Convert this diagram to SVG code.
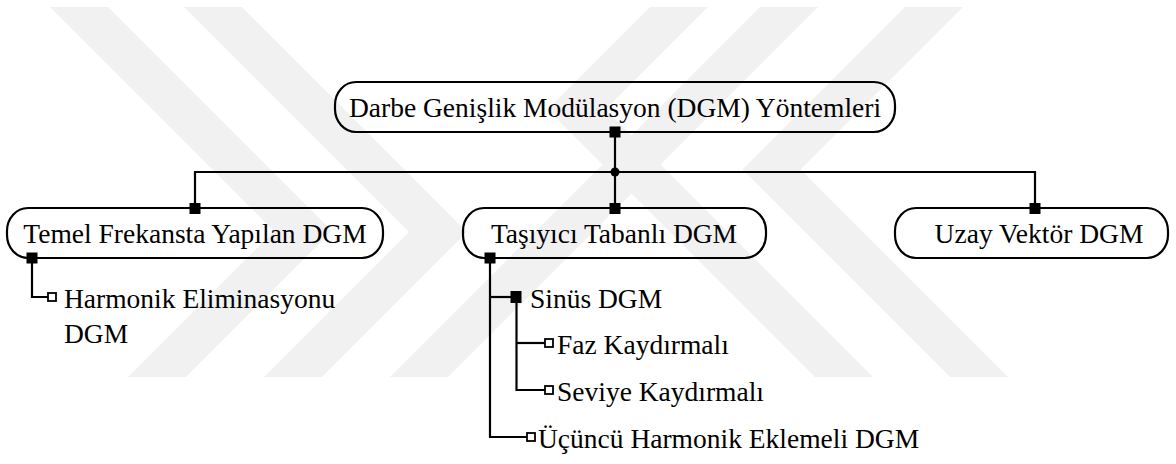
<svg xmlns="http://www.w3.org/2000/svg" width="1176" height="464" viewBox="0 0 1176 464">
<style>
.wm{fill:#f1f1f1}
.box{fill:none;stroke:#000;stroke-width:2.2}
.ln{fill:none;stroke:#000;stroke-width:2.2}
.sq{fill:#000}
.hs{fill:#fff;stroke:#000;stroke-width:1.8}
.t{font-family:"Liberation Serif","Times New Roman",serif;font-size:27.5px;fill:#000}
.c{text-anchor:middle}
</style>
<rect width="1176" height="464" fill="#fff"/>
<g id="watermark">
<polygon class="wm" points="50,7 108,7 332,231 186,377 128,377 274,231"/>
<polygon class="wm" points="184,7 242,7 467,232 322,377 264,377 409,232"/>
<polygon class="wm" points="390,377 448,377 818,7 760,7"/>
<polygon class="wm" points="650,7 708,7 605.5,109.5 873,377 815,377 547.5,109.5"/>
<polygon class="wm" points="905,7 963,7 800.5,169.5 1008,377 950,377 742.5,169.5"/>
</g>
<g id="connectors">
<path class="ln" d="M615 132V208"/>
<path class="ln" d="M195 208V172H1035V208"/>
<circle cx="615" cy="172" r="4.5" fill="#000"/>
<path class="ln" d="M32 258V297H48"/>
<path class="ln" d="M490 258V437H527"/>
<path class="ln" d="M490 297H511"/>
<path class="ln" d="M516.5 297V390H545"/>
<path class="ln" d="M516.5 343H545"/>
<rect class="sq" x="609.5" y="126.5" width="11" height="11"/>
<rect class="sq" x="189.5" y="203" width="11" height="11"/>
<rect class="sq" x="609.5" y="203" width="11" height="11"/>
<rect class="sq" x="1029.5" y="203" width="11" height="11"/>
<rect class="sq" x="26.5" y="252.5" width="11" height="11"/>
<rect class="sq" x="484.5" y="252.5" width="11" height="11"/>
<rect class="sq" x="510.5" y="291" width="11" height="12"/>
<rect class="hs" x="48" y="293" width="8" height="8"/>
<rect class="hs" x="545" y="339" width="8" height="8"/>
<rect class="hs" x="545" y="386" width="8" height="8"/>
<rect class="hs" x="527" y="433" width="8" height="8"/>
</g>
<g id="n-root">
<rect class="box" x="335" y="82" width="560" height="50" rx="21" ry="23"/>
<text class="t c" font-family="Liberation Serif, serif" x="615" y="117">Darbe Genişlik Modülasyon (DGM) Yöntemleri</text>
</g>
<g id="n-temel">
<rect class="box" x="7" y="208" width="376" height="50" rx="21" ry="23"/>
<text class="t c" font-family="Liberation Serif, serif" x="195" y="243">Temel Frekansta Yapılan DGM</text>
</g>
<g id="n-tasiyici">
<rect class="box" x="463" y="208" width="303" height="50" rx="21" ry="23"/>
<text class="t c" font-family="Liberation Serif, serif" x="614" y="243">Taşıyıcı Tabanlı DGM</text>
</g>
<g id="n-uzay">
<rect class="box" x="895" y="208" width="273" height="50" rx="21" ry="23"/>
<text class="t c" font-family="Liberation Serif, serif" x="1039" y="243">Uzay Vektör DGM</text>
</g>
<g id="n-harmonik">
<text class="t" font-family="Liberation Serif, serif" x="64" y="308">Harmonik Eliminasyonu</text>
<text class="t" font-family="Liberation Serif, serif" x="64" y="343">DGM</text>
</g>
<g id="n-sinus">
<text class="t" font-family="Liberation Serif, serif" x="530" y="308">Sinüs DGM</text>
</g>
<g id="n-faz">
<text class="t" font-family="Liberation Serif, serif" x="557" y="354">Faz Kaydırmalı</text>
</g>
<g id="n-seviye">
<text class="t" font-family="Liberation Serif, serif" x="557" y="401">Seviye Kaydırmalı</text>
</g>
<g id="n-ucuncu">
<text class="t" font-family="Liberation Serif, serif" x="538" y="448">Üçüncü Harmonik Eklemeli DGM</text>
</g>
</svg>
